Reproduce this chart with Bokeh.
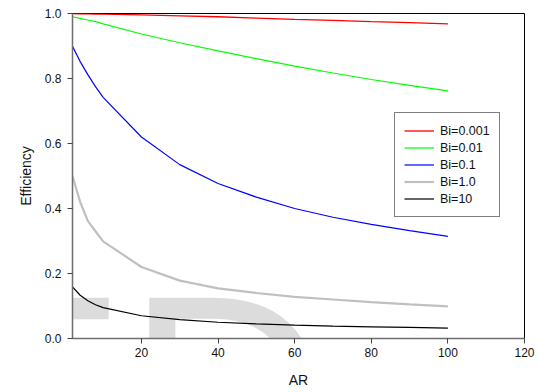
from bokeh.plotting import figure
from bokeh.models import Range1d, FixedTicker, PrintfTickFormatter, Legend, LegendItem, Label
from bokeh.embed import file_html
from bokeh.resources import INLINE

# ---- data ----
ar = [2, 4, 6, 8, 10, 20, 30, 40, 50, 60, 70, 80, 90, 100]
bi_0001 = [0.9995, 0.9993, 0.999, 0.9985, 0.998, 0.996, 0.993, 0.990, 0.986, 0.982, 0.979, 0.975, 0.972, 0.968]
bi_001 = [0.990, 0.985, 0.980, 0.975, 0.968, 0.937, 0.910, 0.885, 0.861, 0.838, 0.817, 0.797, 0.779, 0.762]
bi_01 = [0.899, 0.852, 0.812, 0.775, 0.742, 0.620, 0.535, 0.477, 0.435, 0.400, 0.373, 0.351, 0.332, 0.314]
bi_1 = [0.500, 0.420, 0.362, 0.330, 0.299, 0.220, 0.178, 0.154, 0.140, 0.128, 0.120, 0.112, 0.105, 0.099]
bi_10 = [0.159, 0.133, 0.116, 0.104, 0.095, 0.070, 0.058, 0.050, 0.045, 0.041, 0.038, 0.036, 0.034, 0.032]

series_labels = ["Bi=0.001", "Bi=0.01", "Bi=0.1", "Bi=1.0", "Bi=10"]
series_values = [bi_0001, bi_001, bi_01, bi_1, bi_10]
series_colors = ["#ff0000", "#00ff00", "#0000ff", "#c0c0c0", "#000000"]
series_widths = [1.3, 1.2, 1.2, 2.2, 1.2]

x_ticks = [20, 40, 60, 80, 100, 120]
y_ticks = [0.0, 0.2, 0.4, 0.6, 0.8, 1.0]

FONT = "Liberation Sans"

p = figure(width=539, height=392, output_backend="svg", toolbar_location=None,
           x_range=Range1d(2, 120), y_range=Range1d(0, 1),
           min_border_left=72, min_border_right=15, min_border_top=13, min_border_bottom=54)

p.xgrid.visible = False
p.ygrid.visible = False
p.outline_line_color = "black"
p.outline_line_width = 1
p.background_fill_alpha = 0
p.border_fill_alpha = 0

# faint watermark letters behind the chart (only the part inside the frame shows)
wm = Label(x=256, y=101, x_units="screen", y_units="screen", text="ED",
           text_font=FONT, text_font_size="280px", text_color="#dcdcdc",
           text_baseline="top", text_align="right", level="underlay")
p.add_layout(wm)

renderers = []
for vals, col, w in zip(series_values, series_colors, series_widths):
    r = p.line(ar, vals, line_color=col, line_width=w)
    renderers.append(r)

for ax in (p.xaxis[0], p.yaxis[0]):
    ax.axis_line_color = "#6e6e6e"
    ax.axis_line_width = 1.5
    ax.major_tick_line_color = "#444444"
    ax.major_tick_out = 5
    ax.major_tick_in = 0
    ax.minor_tick_out = 0
    ax.minor_tick_in = 0
    ax.major_label_text_font = FONT
    ax.major_label_text_font_size = "12px"
    ax.major_label_text_color = "#111111"
    ax.axis_label_text_font = FONT
    ax.axis_label_text_font_size = "14px"
    ax.axis_label_text_font_style = "normal"
    ax.axis_label_text_color = "#111111"

p.xaxis.ticker = FixedTicker(ticks=x_ticks)
p.yaxis.ticker = FixedTicker(ticks=y_ticks)
p.yaxis.formatter = PrintfTickFormatter(format="%.1f")
p.xaxis.formatter = PrintfTickFormatter(format="%d")
p.xaxis.axis_label = "AR"
p.yaxis.axis_label = "Efficiency"
p.xaxis.major_label_standoff = 4
p.yaxis.major_label_standoff = 6
p.xaxis.axis_label_standoff = 12
p.yaxis.axis_label_standoff = 8

legend = Legend(items=[LegendItem(label=l, renderers=[r]) for l, r in zip(series_labels, renderers)],
                location=(322, 121), orientation="vertical")
legend.border_line_color = "black"
legend.border_line_width = 1
legend.background_fill_color = "white"
legend.background_fill_alpha = 1
legend.padding = 9
legend.spacing = 0
legend.margin = 0
legend.glyph_width = 30
legend.glyph_height = 17
legend.label_height = 17
legend.label_standoff = 6
legend.label_text_font = FONT
legend.label_text_font_size = "12.5px"
legend.label_text_color = "#111111"
p.add_layout(legend, "center")

open("out.html", "w").write(file_html(p, INLINE))
